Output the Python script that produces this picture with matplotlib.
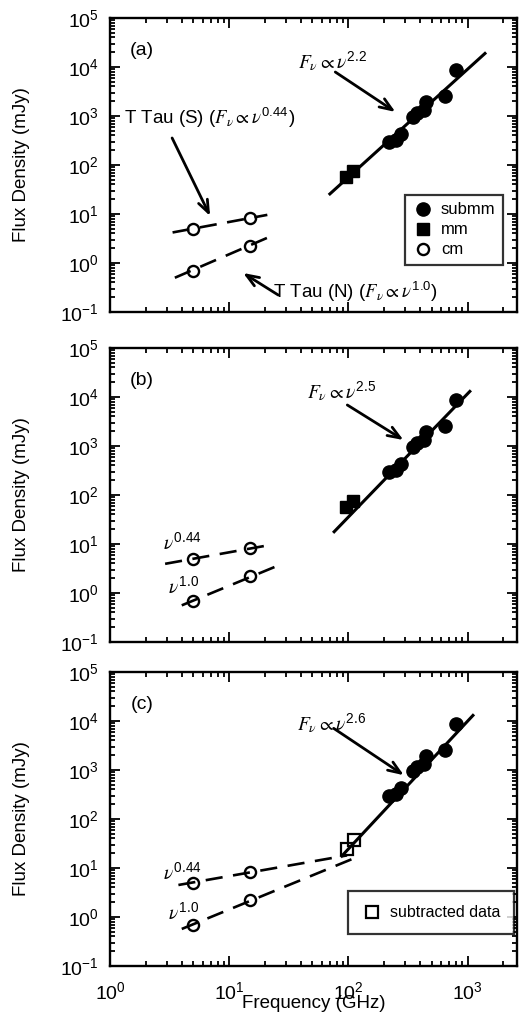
import numpy as np
import matplotlib
matplotlib.use("Agg")
import matplotlib.pyplot as plt
from matplotlib.ticker import LogLocator, NullFormatter

plt.rcParams['font.family'] = ['Liberation Sans', 'DejaVu Sans']
plt.rcParams['mathtext.fontset'] = 'stix'

# measured fluxes (GHz, mJy)
submm_freq = [220, 250, 275, 350, 375, 430, 450, 650, 800]
submm_flux = [290, 330, 420, 950, 1150, 1350, 1950, 2600, 8600]
mm_freq = [95, 110]
mm_flux = [58, 76]
sub_freq = [97, 112]
sub_flux = [24, 38]
cm_freq = [5, 15]
cm_flux_s = [5.0, 8.2]
cm_flux_n = [0.7, 2.2]

# fitted power laws, end points
fit_freq = {'a': [70, 1400], 'b': [76, 1045], 'c': [88, 1110]}
fit_flux = {'a': [25.7, 18900], 'b': [17.8, 13000], 'c': [17.5, 13000]}
s_freq = {'a': [3.35, 20.9], 'b': [2.9, 22.8], 'c': [3.75, 97.5]}
s_flux = {'a': [4.2, 9.6], 'b': [3.94, 9.7], 'c': [4.5, 18.1]}
n_freq = {'a': [3.5, 22.3], 'b': [4.0, 24.8], 'c': [4.0, 118]}
n_flux = {'a': [0.5, 3.5], 'b': [0.56, 3.5], 'c': [0.57, 16.7]}
fit_index = {'a': '2.2', 'b': '2.5', 'c': '2.6'}

fig = plt.figure(figsize=(5.2, 10.14), dpi=100)
W, H = 520.0, 1014.0
left, right = 110, 517
tops = {'a': 18, 'b': 348, 'c': 672}
ph = 294

dash = (0, (6.5, 4))
arw = dict(arrowstyle='->,head_length=0.9,head_width=0.35', lw=2.0, color='k',
           shrinkA=0, shrinkB=0)
axes = {}
for p in ['a', 'b', 'c']:
    ax = fig.add_axes([left / W, 1 - (tops[p] + ph) / H, (right - left) / W, ph / H])
    axes[p] = ax
    ax.set_xscale('log')
    ax.set_yscale('log')
    ax.set_xlim(1, 2600)
    ax.set_ylim(0.1, 1e5)

    ax.plot(fit_freq[p], fit_flux[p], '-', color='k', lw=2.2, zorder=2)
    ax.plot(s_freq[p], s_flux[p], color='k', lw=1.9, linestyle=dash, zorder=2)
    ax.plot(n_freq[p], n_flux[p], color='k', lw=1.9, linestyle=dash, zorder=2)

    ax.plot(submm_freq, submm_flux, 'o', color='k', ms=9.5, zorder=3, label='submm')
    if p == 'c':
        ax.plot(sub_freq, sub_flux, 's', mfc='none', mec='k', mew=1.6, ms=9,
                zorder=3, label='subtracted data')
    else:
        ax.plot(mm_freq, mm_flux, 's', color='k', ms=9, zorder=3, label='mm')
    ax.plot(cm_freq, cm_flux_s, 'o', mfc='none', mec='k', mew=1.7, ms=8, zorder=3, label='cm')
    ax.plot(cm_freq, cm_flux_n, 'o', mfc='none', mec='k', mew=1.7, ms=8, zorder=3)

    ax.xaxis.set_major_locator(LogLocator(base=10, numticks=10))
    ax.xaxis.set_minor_locator(LogLocator(base=10, subs=np.arange(2, 10), numticks=10))
    ax.yaxis.set_major_locator(LogLocator(base=10, numticks=10))
    ax.yaxis.set_minor_locator(LogLocator(base=10, subs=np.arange(2, 10), numticks=10))
    ax.xaxis.set_minor_formatter(NullFormatter())
    ax.yaxis.set_minor_formatter(NullFormatter())
    ax.tick_params(which='both', direction='in', top=True, right=True, width=1.3)
    ax.tick_params(which='major', length=7, labelsize=14, pad=8)
    ax.tick_params(axis='x', which='major', pad=11)
    ax.tick_params(which='minor', length=3.5)
    for s in ax.spines.values():
        s.set_linewidth(1.7)
    if p != 'c':
        ax.tick_params(labelbottom=False)
    ax.set_ylabel('Flux Density (mJy)', fontsize=13.5, labelpad=22)
    ax.text(0.079, 0.891, '(' + p + ')', transform=ax.transAxes, fontsize=14,
            ha='center', va='center')

    # F_nu label and arrow
    ax.annotate('', xy={'a': (248, 1210), 'b': (290, 1325), 'c': (292, 783)}[p],
                xytext={'a': (77.7, 7900), 'b': (98, 6870), 'c': (75.3, 7080)}[p],
                arrowprops=arw)
    ax.text(*{'a': (73.4, 12600), 'b': (87.3, 12600), 'c': (73, 8650)}[p],
            r'$F_{\nu} \propto \nu^{\mathdefault{' + fit_index[p] + '}}$',
            fontsize=14, ha='center', va='center')

axa, axb, axc = axes['a'], axes['b'], axes['c']

axa.text(6.79, 912, r'T Tau (S) ($F_{\nu} \propto \nu^{\mathdefault{0.44}}$)',
         fontsize=13.5, ha='center', va='center')
axa.annotate('', xy=(6.92, 9.1), xytext=(3.32, 356), arrowprops=arw)
axa.text(114.5, 0.256, r'T Tau (N) ($F_{\nu} \propto \nu^{\mathdefault{1.0}}$)',
         fontsize=13.5, ha='center', va='center')
axa.annotate('', xy=(13.1, 0.625), xytext=(25.8, 0.222), arrowprops=arw)

for ax, y1, y2 in [(axb, 10.3, 1.35), (axc, 7.76, 1.18)]:
    ax.text(4.03, y1, r'$\nu^{\mathdefault{0.44}}$', fontsize=14, ha='center', va='center')
    ax.text(4.1, y2, r'$\nu^{\mathdefault{1.0}}$', fontsize=14, ha='center', va='center')

leg_kw = dict(frameon=True, fancybox=False, edgecolor='k', borderaxespad=0,
              handletextpad=0.5, labelspacing=0.3, handlelength=1.2)
leg = axa.legend(loc='upper left', bbox_to_anchor=(0.725, 0.398), fontsize=12,
                 borderpad=0.45, **leg_kw)
leg.get_frame().set_linewidth(1.6)
h, l = axc.get_legend_handles_labels()
leg = axc.legend([h[1]], [l[1]], loc='upper left', bbox_to_anchor=(0.585, 0.256),
                 fontsize=11.5, borderpad=0.9, **leg_kw)
leg.get_frame().set_linewidth(1.6)

axc.set_xlabel('Frequency (GHz)', fontsize=13.5, labelpad=-6)

fig.savefig('out.png', dpi=100)
